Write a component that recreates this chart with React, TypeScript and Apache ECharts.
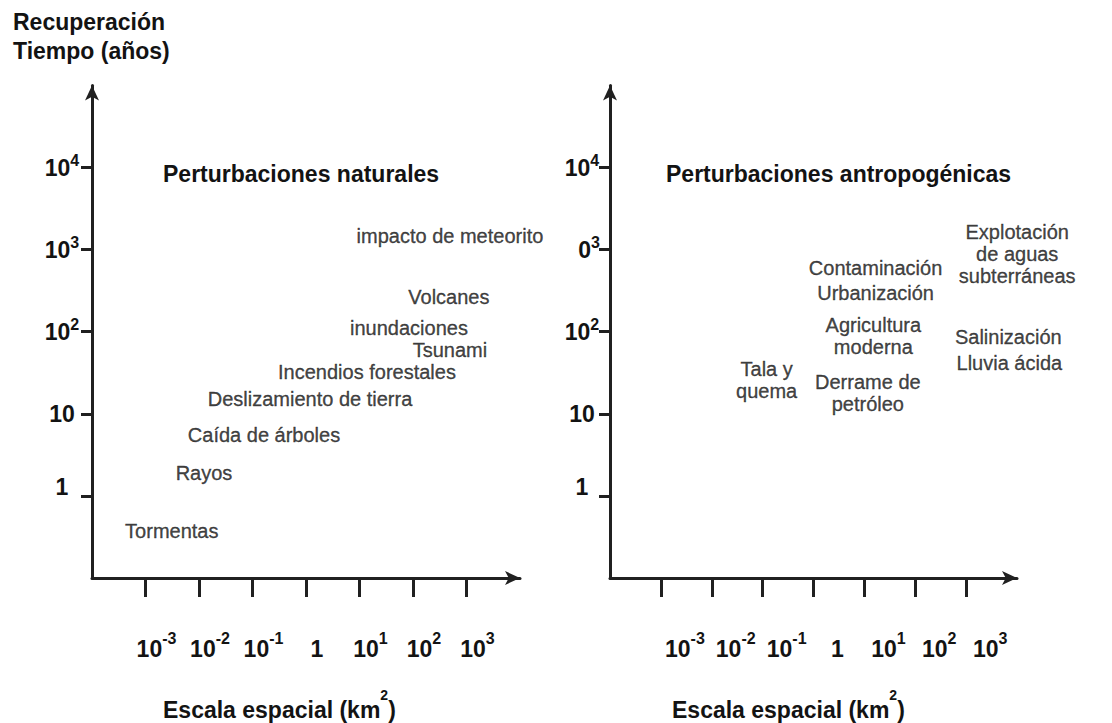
import React, { useEffect, useRef } from 'react';
import * as echarts from 'echarts';

const FONT = "'Liberation Sans', Arial, Helvetica, sans-serif";
const INK = '#131313';
const AXIS = '#202020';

// exponents (log10) of the tick positions
const xTickExponents = [-3, -2, -1, 0, 1, 2, 3];
const yTickExponents = [0, 1, 2, 3, 4];
const xTickLabels = ['10^-3', '10^-2', '10^-1', '1', '10^1', '10^2', '10^3'];
const yTickLabelsLeft = ['1', '10', '10^2', '10^3', '10^4'];
const yTickLabelsRight = ['1', '10', '10^2', '0^3', '10^4'];

// Perturbaciones naturales: spatial scale (km²), recovery time (años)
const naturalNames = [
  'Tormentas',
  'Rayos',
  'Caída de árboles',
  'Deslizamiento de tierra',
  'Incendios forestales',
  'Tsunami',
  'inundaciones',
  'Volcanes',
  'impacto de meteorito',
];
const naturalArea = [0.0031, 0.0124, 0.164, 1.19, 13.8, 490, 84, 468, 490];
const naturalRecovery = [0.373, 1.9, 5.5, 15.2, 32.7, 60.7, 112.5, 263, 1466];

// Perturbaciones antropogénicas
const anthroNames = [
  'Tala y\nquema',
  'Derrame de\npetróleo',
  'Agricultura\nmoderna',
  'Urbanización',
  'Contaminación',
  'Salinización',
  'Lluvia ácida',
  'Explotación\nde aguas\nsubterráneas',
];
const anthroArea = [0.12, 11.7, 15, 16.6, 16.6, 6750, 7080, 10100];
const anthroRecovery = [26, 18, 89, 296, 600, 86, 41, 890];

function toRich(label: string, base: string): string {
  if (label.includes('^')) {
    const [m, s] = label.split('^');
    return `{${base}|${m}}{s|${s}}`;
  }
  return `{${base}|${label}}`;
}

const supStyle = {
  fontSize: 16,
  fontWeight: 'bold',
  lineHeight: 11,
  verticalAlign: 'top',
  color: INK,
  fontFamily: FONT,
};

const axisLineStyle = (size: [number, number]) => ({
  show: true,
  onZero: false,
  symbol: ['none', 'arrow'],
  symbolSize: size,
  lineStyle: { color: AXIS, width: 3 },
});

function makeX(gridIndex: number, shift: number) {
  return {
    type: 'value',
    gridIndex,
    min: -4,
    max: 4,
    interval: 1,
    splitLine: { show: false },
    axisLine: axisLineStyle([10.5, 15]),
    axisTick: {
      show: true,
      customValues: xTickExponents,
      length: 19,
      lineStyle: { color: AXIS, width: 3 },
    },
    axisLabel: {
      show: true,
      customValues: xTickExponents,
      margin: 52,
      padding: [0, 0, 0, shift],
      align: 'center',
      fontSize: 23,
      fontWeight: 'bold',
      color: INK,
      fontFamily: FONT,
      formatter: (v: number) => {
        const i = xTickExponents.indexOf(Math.round(v));
        return i < 0 ? '' : toRich(xTickLabels[i], 'b');
      },
      rich: {
        b: { fontSize: 23, fontWeight: 'bold', lineHeight: 37, color: INK, fontFamily: FONT },
        s: supStyle,
      },
    },
  };
}

function makeY(gridIndex: number, margin: number, labels: string[]) {
  return {
    type: 'value',
    gridIndex,
    min: -1,
    max: 5,
    interval: 1,
    splitLine: { show: false },
    axisLine: axisLineStyle([10.5, 15]),
    axisTick: {
      show: true,
      customValues: yTickExponents,
      length: 11,
      lineStyle: { color: AXIS, width: 3 },
    },
    axisLabel: {
      show: true,
      customValues: yTickExponents,
      margin,
      align: 'center',
      fontSize: 23,
      fontWeight: 'bold',
      color: INK,
      fontFamily: FONT,
      formatter: (v: number) => {
        const i = yTickExponents.indexOf(Math.round(v));
        if (i < 0) return '';
        const lab = labels[i];
        if (lab === '1') return '{one|1}';
        if (lab.startsWith('0')) return toRich(lab, 'z');
        return toRich(lab, 'b');
      },
      rich: {
        b: { fontSize: 23, fontWeight: 'bold', lineHeight: 31, color: INK, fontFamily: FONT },
        one: {
          fontSize: 23,
          fontWeight: 'bold',
          lineHeight: 24,
          padding: [0, 0, 18, 0],
          color: INK,
          fontFamily: FONT,
        },
        z: {
          fontSize: 23,
          fontWeight: 'bold',
          lineHeight: 31,
          padding: [0, 0, 0, 14],
          color: INK,
          fontFamily: FONT,
        },
        s: supStyle,
      },
    },
  };
}

function makeLabels(idx: number, names: string[], area: number[], rec: number[]) {
  return {
    type: 'scatter',
    xAxisIndex: idx,
    yAxisIndex: idx,
    clip: false,
    symbolSize: 1,
    itemStyle: { color: 'rgba(0,0,0,0)' },
    silent: true,
    label: {
      show: true,
      position: 'inside',
      formatter: '{b}',
      fontSize: 20,
      lineHeight: 22,
      color: INK,
      textBorderColor: INK,
      textBorderWidth: 0.35,
      fontFamily: FONT,
      align: 'center',
    },
    data: names.map((n, i) => ({
      name: n,
      value: [Math.log10(area[i]), Math.log10(rec[i])],
    })),
  };
}

const titleStyle = {
  fontSize: 23,
  fontWeight: 'bold',
  color: INK,
  fontFamily: FONT,
  lineHeight: 23,
};

const escalaStyle = {
  fontSize: 23,
  fontWeight: 'bold',
  color: INK,
  fontFamily: FONT,
  lineHeight: 30,
  rich: {
    s: {
      fontSize: 14,
      fontWeight: 'bold',
      lineHeight: 14,
      padding: [0, 0, 30, 0],
      color: INK,
      fontFamily: FONT,
    },
  },
};

export default function App() {
  const ref = useRef<HTMLDivElement>(null);
  useEffect(() => {
    if (!ref.current) return;
    const chart = echarts.init(ref.current, undefined, { renderer: 'svg' });
    chart.setOption({
      animation: false,
      backgroundColor: '#ffffff',
      title: [
        {
          text: 'Recuperación\nTiempo (años)',
          left: 13,
          top: 7,
          padding: 0,
          textStyle: { ...titleStyle, lineHeight: 29 },
        },
        { text: 'Perturbaciones naturales', left: 163, top: 162, padding: 0, textStyle: titleStyle },
        { text: 'Perturbaciones antropogénicas', left: 666, top: 162, padding: 0, textStyle: titleStyle },
        { text: 'Escala espacial (km{s|2})', left: 163, top: 695, padding: 0, textStyle: escalaStyle },
        { text: 'Escala espacial (km{s|2})', left: 672, top: 695, padding: 0, textStyle: escalaStyle },
      ],
      grid: [
        { left: 92, top: 85.4, width: 428, height: 492.6, outerBoundsMode: 'none' },
        { left: 610, top: 85.4, width: 407, height: 492.6, outerBoundsMode: 'none' },
      ],
      xAxis: [makeX(0, 22), makeX(1, 48)],
      yAxis: [makeY(0, 30, yTickLabelsLeft), makeY(1, 28, yTickLabelsRight)],
      series: [
        makeLabels(0, naturalNames, naturalArea, naturalRecovery),
        makeLabels(1, anthroNames, anthroArea, anthroRecovery),
      ],
    });
    return () => chart.dispose();
  }, []);
  return (
    <div
      ref={ref}
      style={{ position: 'absolute', left: 0, top: 0, width: 1112, height: 723, background: '#fff' }}
    />
  );
}
